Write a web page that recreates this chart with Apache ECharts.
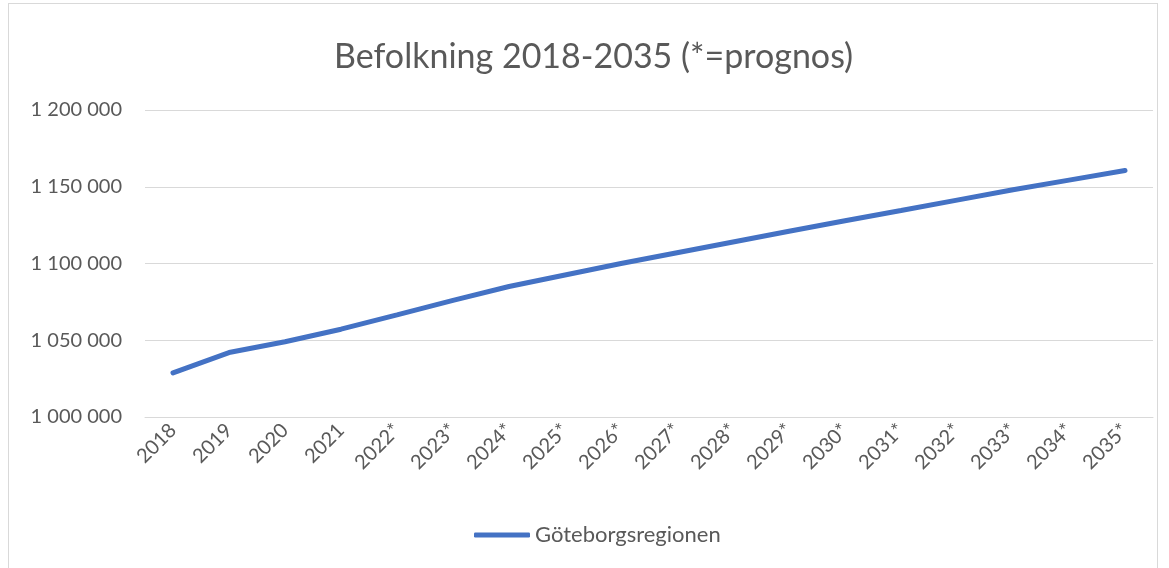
<!DOCTYPE html>
<html>
<head>
<meta charset="utf-8">
<script src="https://cdn.jsdelivr.net/npm/echarts@6/dist/echarts.min.js"></script>
<style>
	html, body { margin: 0; padding: 0; background: #fff; }
	#frame { position: absolute; left: 8px; top: 3px; width: 1150px; height: 570px; border: 1px solid #d9d9d9; box-sizing: border-box; }
	#chart { position: absolute; left: 0; top: 0; width: 1169px; height: 568px; }
</style>
</head>
<body>
<div id="frame"></div>
<div id="chart"></div>
<script>
// Befolkning Göteborgsregionen
var years = ['2018', '2019', '2020', '2021', '2022*', '2023*', '2024*', '2025*', '2026*',
	'2027*', '2028*', '2029*', '2030*', '2031*', '2032*', '2033*', '2034*', '2035*'];
var population = [1028700, 1042000, 1049000, 1057200, 1066500, 1076000, 1085000, 1092500, 1100000,
	1107000, 1114000, 1121000, 1127800, 1134500, 1141300, 1148000, 1154300, 1160600];
var seriesName = 'Göteborgsregionen';
var titleText = 'Befolkning 2018-2035 (*=prognos)';

var font = 'Lato, "Open Sans", sans-serif';
var textColor = '#595959';

function spaced(v) {
	return String(v).replace(/\B(?=(\d{3})+(?!\d))/g, ' ');
}

var myChart = echarts.init(document.getElementById('chart'));
var option = {
	backgroundColor: 'transparent',
	animation: false,
	title: {
		text: titleText,
		left: 329,
		top: 35,
		textStyle: {
			fontFamily: font,
			fontSize: 34,
			fontWeight: 'normal',
			color: textColor
		}
	},
	legend: {
		bottom: 17,
		left: 469,
		itemWidth: 56,
		itemHeight: 5,
		itemGap: 10,
		icon: 'roundRect',
		textStyle: {
			fontFamily: font,
			fontSize: 22,
			color: textColor
		},
		data: [seriesName]
	},
	grid: {
		left: 145,
		right: 16,
		top: 110,
		bottom: 151
	},
	xAxis: {
		type: 'category',
		data: years,
		boundaryGap: true,
		axisLine: { lineStyle: { color: '#d9d9d9' } },
		axisTick: { show: false },
		axisLabel: {
			rotate: 45,
			margin: 10,
			fontFamily: font,
			fontSize: 20,
			color: textColor
		}
	},
	yAxis: {
		type: 'value',
		min: 1000000,
		max: 1200000,
		interval: 50000,
		axisLine: { show: false },
		axisTick: { show: false },
		splitLine: { lineStyle: { color: '#d9d9d9', width: 1 } },
		axisLabel: {
			margin: 23,
			fontFamily: font,
			fontSize: 20,
			color: textColor,
			formatter: spaced
		}
	},
	series: [{
		name: seriesName,
		type: 'line',
		data: population,
		showSymbol: false,
		symbol: 'none',
		lineStyle: { color: '#4472c4', width: 5, cap: 'round' },
		itemStyle: { color: '#4472c4' }
	}]
};
myChart.setOption(option);
</script>
</body>
</html>
